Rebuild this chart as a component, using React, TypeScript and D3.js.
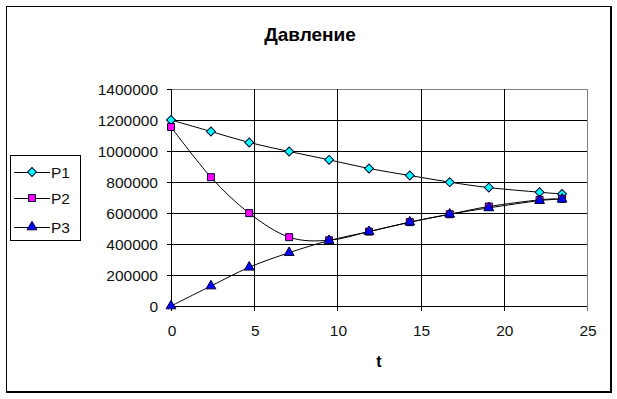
import React, { useEffect, useRef } from "react";
import * as d3 from "d3";

// time points and the three pressure series
const tValues = [0, 2.4, 4.7, 7.1, 9.5, 11.9, 14.35, 16.75, 19.1, 22.15, 23.5];
const p1 = [1200000, 1126000, 1055000, 997000, 943000, 887000, 842000, 799000, 764000, 734000, 723000];
const p2 = [1155000, 831000, 599000, 444000, 424000, 480000, 541000, 592000, 642000, 685000, 691000];
const p3 = [0, 129000, 250000, 344000, 422000, 480000, 541000, 592000, 633000, 680000, 689000];
const seriesNames = ["P1", "P2", "P3"];
const xTicks = [0, 5, 10, 15, 20, 25];
const yTicks = [0, 200000, 400000, 600000, 800000, 1000000, 1200000, 1400000];

const colors = ["#00FFFF", "#FF00FF", "#0000FF"];
const symbols = [d3.symbolSquare, d3.symbolSquare, d3.symbolTriangle];
const symbolSizes = [40, 49, 42];
const rotations = [45, 0, 0];

export default function App() {
  const svgRef = useRef<SVGSVGElement>(null);

  useEffect(() => {
    if (!svgRef.current) return;
    const svg = d3.select(svgRef.current);
    svg.selectAll("*").remove();
    const font = "Liberation Sans, Arial, sans-serif";

    const x = d3.scaleLinear().domain([0, 25]).range([171, 587]);
    const y = d3.scaleLinear().domain([0, 1400000]).range([306, 89]);

    // outer frame with heavier right/bottom edge
    svg.append("rect").attr("x", 6.5).attr("y", 6.5).attr("width", 604).attr("height", 385)
      .attr("fill", "#fff").attr("stroke", "#000").attr("stroke-width", 1);
    svg.append("line").attr("x1", 611).attr("x2", 611).attr("y1", 6).attr("y2", 393)
      .attr("stroke", "#000").attr("stroke-width", 2);
    svg.append("line").attr("x1", 6).attr("x2", 612).attr("y1", 392).attr("y2", 392)
      .attr("stroke", "#000").attr("stroke-width", 2);

    // title
    svg.append("text").attr("x", 310).attr("y", 41).attr("text-anchor", "middle")
      .attr("font-family", font).attr("font-weight", "bold").attr("font-size", 19)
      .text("Давление");

    // grid
    const grid = svg.append("g");
    yTicks.forEach((v) => {
      grid.append("line").attr("x1", x(0)).attr("x2", x(25))
        .attr("y1", Math.round(y(v)) + 0.5).attr("y2", Math.round(y(v)) + 0.5)
        .attr("stroke", v === 1400000 ? "#808080" : "#000").attr("stroke-width", 1);
    });
    xTicks.forEach((v) => {
      grid.append("line").attr("x1", Math.round(x(v)) + 0.5).attr("x2", Math.round(x(v)) + 0.5)
        .attr("y1", y(1400000)).attr("y2", y(0) + 5)
        .attr("stroke", v === 25 ? "#808080" : "#000").attr("stroke-width", 1);
    });
    // axes lines
    svg.append("line").attr("x1", 171.5).attr("x2", 171.5).attr("y1", y(1400000)).attr("y2", y(0) + 5)
      .attr("stroke", "#000");
    yTicks.forEach((v) => {
      svg.append("line").attr("x1", 167).attr("x2", 171)
        .attr("y1", Math.round(y(v)) + 0.5).attr("y2", Math.round(y(v)) + 0.5).attr("stroke", "#000");
    });

    // tick labels
    svg.append("g").selectAll("text").data(yTicks).enter().append("text")
      .attr("x", 158).attr("y", (d) => y(d) + 5.5).attr("text-anchor", "end")
      .attr("font-family", font).attr("font-size", 15.5).attr("fill", "#111")
      .text((d) => String(d));
    svg.append("g").selectAll("text").data(xTicks).enter().append("text")
      .attr("x", (d) => x(d) + 1).attr("y", 336).attr("text-anchor", "middle")
      .attr("font-family", font).attr("font-size", 15.5).attr("fill", "#111")
      .text((d) => String(d));

    // axis title
    svg.append("text").attr("x", 379).attr("y", 367).attr("text-anchor", "middle")
      .attr("font-family", font).attr("font-weight", "bold").attr("font-size", 16)
      .text("t");

    // series
    const allSeries = [p1, p2, p3];
    const line = d3.line<number>()
      .x((_d, i) => x(tValues[i]))
      .y((d) => y(d))
      .curve(d3.curveCatmullRom.alpha(0));
    allSeries.forEach((s) => {
      svg.append("path").datum(s).attr("fill", "none").attr("stroke", "#000")
        .attr("stroke-width", 1).attr("d", line);
    });
    allSeries.forEach((s, k) => {
      svg.append("g").selectAll("path").data(s).enter().append("path")
        .attr("transform", (d, i) => `translate(${x(tValues[i])},${y(d)}) rotate(${rotations[k]})`)
        .attr("d", d3.symbol().type(symbols[k]).size(symbolSizes[k])())
        .attr("fill", colors[k]).attr("stroke", "#000030").attr("stroke-width", 1);
    });

    // legend
    svg.append("rect").attr("x", 10.5).attr("y", 155.5).attr("width", 70).attr("height", 85)
      .attr("fill", "#fff").attr("stroke", "#000");
    const legendY = [172, 198, 227];
    seriesNames.forEach((name, k) => {
      svg.append("line").attr("x1", 14).attr("x2", 50).attr("y1", legendY[k] + 0.5).attr("y2", legendY[k] + 0.5)
        .attr("stroke", "#000");
      svg.append("path").attr("transform", `translate(32,${legendY[k]}) rotate(${rotations[k]})`)
        .attr("d", d3.symbol().type(symbols[k]).size(symbolSizes[k])())
        .attr("fill", colors[k]).attr("stroke", "#000030").attr("stroke-width", 1);
      svg.append("text").attr("x", 51).attr("y", legendY[k] + 6).attr("font-family", font)
        .attr("font-size", 15.5).attr("fill", "#111").text(name);
    });
  }, []);

  return (
    <svg ref={svgRef} width={617} height={399}
      style={{ position: "absolute", left: 0, top: 0, background: "#fff" }} />
  );
}
